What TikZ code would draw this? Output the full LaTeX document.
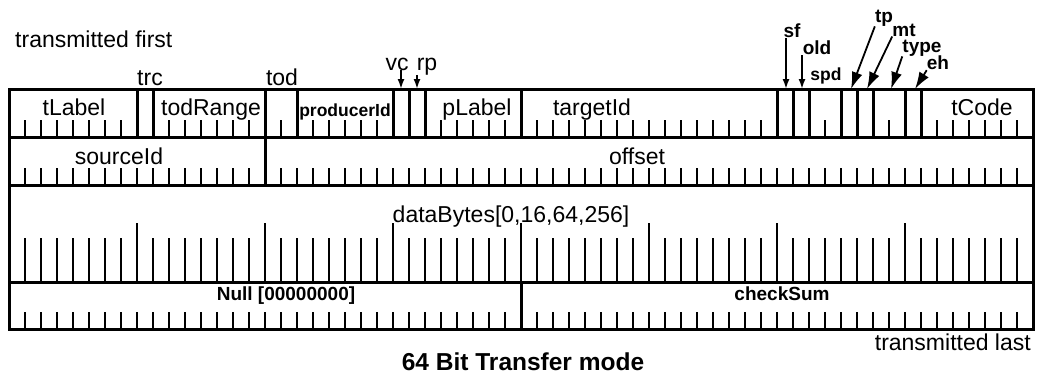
\documentclass[tikz,border=0pt]{standalone}
\usepackage{fontspec}
\setmainfont{Liberation Sans}
\usetikzlibrary{arrows.meta,calc}

\tikzset{
  fieldline/.style={line width=3pt},
  bittick/.style={line width=2.5pt},
  lbl/.style={font=\fontsize{23}{26}\selectfont, inner sep=0pt},
  blbl/.style={font=\fontsize{19}{22}\selectfont\bfseries, inner sep=0pt},
  ptr/.style={line width=1.8pt, -{Latex[length=10pt,width=7pt]}},
  bigptr/.style={line width=1.8pt, -{Latex[length=17pt,width=11pt]}},
}

\begin{document}
\begin{tikzpicture}[x=1pt,y=-1pt]
    \useasboundingbox (0,0) rectangle (1038,376);
    % ---- the frame and its four rows
    \draw[fieldline] (9,89) rectangle (1033,329);
    \draw[fieldline] (9,137) -- (1033,137);
    \draw[fieldline] (9,185) -- (1033,185);
    \draw[fieldline] (9,282) -- (1033,282);
    % row one: field borders and bit ticks
    \foreach \b in {8,9,16,18,24,25,26,32,48,49,50,52,53,54,56,57}
      \draw[fieldline] ({9+16*\b},89) -- ({9+16*\b},137);
    \foreach \a/\z in {1/7,10/15,17/17,19/23,27/31,33/47,51/51,55/55,58/63}
      \foreach \b in {\a,...,\z}
        \draw[bittick] ({9+16*\b},120) -- ({9+16*\b},137);
    % row two
    \draw[fieldline] (265,137) -- (265,185);
    \foreach \b in {1,...,15,17,18,...,63}
      \draw[bittick] ({9+16*\b},168) -- ({9+16*\b},185);
    % row three: short ticks, long ones every byte
    \foreach \b in {1,...,63}
      \draw[bittick] ({9+16*\b},238) -- ({9+16*\b},282);
    \foreach \b in {8,16,...,56}
      \draw[bittick] ({9+16*\b},223) -- ({9+16*\b},282);
    % row four
    \draw[fieldline] (521,282) -- (521,329);
    \foreach \b in {1,...,31,33,34,...,63}
      \draw[bittick] ({9+16*\b},312) -- ({9+16*\b},329);
    % ---- field names
    \node[lbl,anchor=base] (tlabel) at (74,115) {tLabel};
    \node[lbl,anchor=base] (todrange) at (211,115) {todRange};
    \node[blbl,anchor=base,font=\fontsize{17.5}{20}\selectfont\bfseries] (producer) at (345,116) {producerId};
    \node[lbl,anchor=base] (plabel) at (477,115) {pLabel};
    \node[lbl,anchor=base] (target) at (592,115) {targetId};
    \node[lbl,anchor=base] (tcode) at (982,115) {tCode};
    \node[lbl,anchor=base] (source) at (119,164) {sourceId};
    \node[lbl,anchor=base] (offset) at (637,164) {offset};
    \node[lbl,anchor=base] (data) at (511,222) {dataBytes[0,16,64,256]};
    \node[blbl,anchor=base] (null) at (286,300) {Null [00000000]};
    \node[blbl,anchor=base] (check) at (782,300) {checkSum};
    % labels above row one
    \node[lbl,anchor=base] (trc) at (150,85) {trc};
    \node[lbl,anchor=base] (tod) at (282,85) {tod};
    \node[lbl,anchor=base] (vc) at (397,70) {vc};
    \node[lbl,anchor=base] (rp) at (427,70) {rp};
    \node[blbl] (sf) at (792,31) {sf};
    \node[blbl] (old) at (817,48) {old};
    \node[blbl,font=\fontsize{17.5}{20}\selectfont\bfseries] (spd) at (826,76) {spd};
    \node[blbl] (tp) at (884,18) {tp};
    \node[blbl] (mt) at (904,30) {mt};
    \node[blbl] (type) at (922,48) {type};
    \node[blbl] (eh) at (938,63) {eh};
    % field tops the pointers land on
    \coordinate (fvc) at (401,89);
    \coordinate (frp) at (417,89);
    \coordinate (fsf) at (786,89);
    \coordinate (fold) at (802,89);
    \coordinate (ftp) at (851,89);
    \coordinate (fmt) at (867,89);
    \coordinate (ftype) at (891,89);
    \coordinate (feh) at (915,89);
    % pointers
    \draw[ptr] (vc.south -| fvc) -- (fvc);
    \draw[ptr] (rp.south -| frp) -- (frp);
    \draw[ptr] (sf.south -| fsf) -- (fsf);
    \draw[ptr] (old.south -| fold) -- (fold);
    \draw[bigptr] (tp.south west) -- (ftp);
    \draw[bigptr] (mt.south west) -- (fmt);
    \draw[bigptr] (type.south west) -- (ftype);
    \draw[bigptr] (eh.south west) -- (feh);
    % ---- the two ends and the caption
    \node[lbl,anchor=base west] (first) at (15,47) {transmitted first};
    \node[lbl,anchor=base east] (last) at (1031,350) {transmitted last};
    \node[lbl,anchor=base,font=\fontsize{24.5}{28}\selectfont\bfseries] (title) at (523,370) {64 Bit Transfer mode};
\end{tikzpicture}
\end{document}
